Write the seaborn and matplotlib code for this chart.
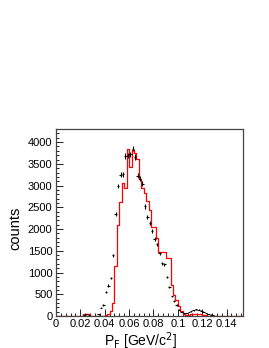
import numpy as np
import pandas as pd
import matplotlib
matplotlib.use("Agg")
import matplotlib.pyplot as plt
import seaborn as sns
from matplotlib.ticker import MultipleLocator

sns.set_theme(style="white")
plt.rcParams['font.family'] = ['Liberation Sans', 'DejaVu Sans']

# ---- data ----
# black points: bins of 0.002 GeV/c^2, centres
data_x = [0.023, 0.025, 0.027, 0.035, 0.037, 0.039, 0.041, 0.043, 0.045, 0.047,
          0.049, 0.051, 0.053, 0.055, 0.057, 0.059, 0.061, 0.063, 0.065, 0.067,
          0.069, 0.071, 0.073, 0.075, 0.077, 0.079, 0.081, 0.083, 0.085, 0.087,
          0.089, 0.091, 0.093, 0.095, 0.097, 0.099, 0.101, 0.103, 0.105, 0.107,
          0.109, 0.111, 0.113, 0.115, 0.117, 0.119, 0.121, 0.123, 0.125, 0.127,
          0.129, 0.131]
data_y = [20, 35, 20, 40, 190, 250, 550, 700, 870, 1400,
          2340, 2990, 3250, 3260, 3680, 3700, 3720, 3850, 3660, 3230,
          3160, 3040, 2520, 2280, 2130, 1960, 1770, 1650, 1440, 1210,
          1190, 900, 670, 450, 350, 250, 140, 90, 60, 70,
          90, 110, 130, 150, 140, 120, 100, 70, 50, 30,
          15, 5]

# red histogram: bin left edges (width 0.002) and contents
mc_left = [0.020, 0.022, 0.024, 0.026, 0.028, 0.038, 0.040, 0.042, 0.044, 0.046,
           0.048, 0.050, 0.052, 0.054, 0.056, 0.058, 0.060, 0.062, 0.064, 0.066,
           0.068, 0.070, 0.072, 0.074, 0.076, 0.078, 0.080, 0.082, 0.084, 0.086,
           0.088, 0.090, 0.092, 0.094, 0.096, 0.098, 0.100, 0.102, 0.104, 0.106,
           0.108, 0.110, 0.112, 0.114, 0.116, 0.118, 0.120, 0.122, 0.124]
mc_y = [10, 40, 55, 35, 10, 10, 20, 46, 115, 306,
        1150, 2090, 2630, 3060, 2950, 3840, 3420, 3815, 3740, 3610,
        3150, 2950, 2820, 2640, 2440, 2050, 2050, 1790, 1480, 1470,
        1470, 1340, 1340, 710, 480, 370, 230, 115, 46, 20,
        20, 35, 50, 55, 50, 40, 25, 15, 5]

bw = 0.002
xticks = [0, 0.02, 0.04, 0.06, 0.08, 0.1, 0.12, 0.14]
xtick_labels = ["0", "0.02", "0.04", "0.06", "0.08", "0.1", "0.12", "0.14"]

fig = plt.figure(figsize=(2.69, 3.48), dpi=100)
ax = fig.add_axes([0.208, 0.092, 0.695, 0.537])

mc = pd.DataFrame({"pf": np.array(mc_left) + bw / 2, "n": np.array(mc_y, dtype=float)})
sns.histplot(data=mc, x="pf", weights="n", binwidth=bw, binrange=(0, 0.154),
             element="step", fill=False, color="red", linewidth=0.9, ax=ax)

dy = np.sqrt(np.array(data_y, dtype=float))
ax.errorbar(data_x, data_y, xerr=bw / 2, yerr=dy, fmt="none",
            ecolor="black", elinewidth=0.8, capsize=0)

ax.set_xlim(0, 0.1534)
ax.set_ylim(0, 4300)
ax.set_xticks(xticks)
ax.set_xticklabels(xtick_labels)
ax.xaxis.set_minor_locator(MultipleLocator(0.004))
ax.yaxis.set_major_locator(MultipleLocator(500))
ax.yaxis.set_minor_locator(MultipleLocator(100))
ax.tick_params(which="both", direction="in", labelsize=8, top=False, right=False,
               bottom=True, left=True, color="black", width=0.6, pad=2.5,
               labelcolor="black")
ax.tick_params(which="major", length=5)
ax.tick_params(which="minor", length=2.5)
for s in ax.spines.values():
    s.set_color("#444444")
    s.set_linewidth(0.9)

ax.set_xlabel(r"P$_{\rm F}$ [GeV/c$^{2}$]", fontsize=10, color="black")
ax.xaxis.set_label_coords(0.45, -0.075)
ax.xaxis.label.set_va("top")
ax.set_ylabel("counts", fontsize=10.5, color="black")
ax.yaxis.set_label_coords(-0.18, 0.47)

fig.savefig("out.png", dpi=100)
